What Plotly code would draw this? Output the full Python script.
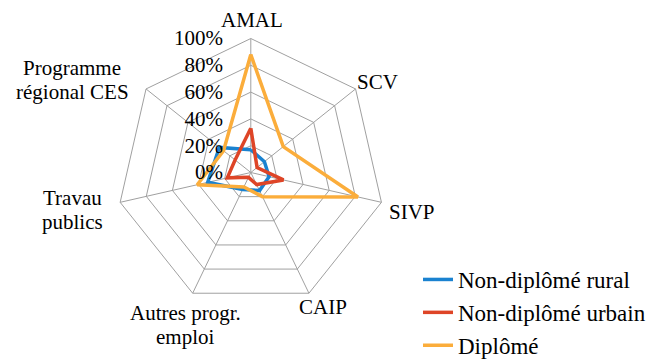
import plotly.graph_objects as go

categories = ["AMAL", "SCV", "SIVP", "CAIP", "Autres progr. emploi",
              "Travau publics", "Programme régional CES"]

# Category labels as drawn around the web (line-broken)
category_lines = [["AMAL"], ["SCV"], ["SIVP"], ["CAIP"],
                  ["Autres progr.", "emploi"],
                  ["Travau", "publics"],
                  ["Programme", "régional CES"]]

rural = [0.17, 0.13, 0.14, 0.15, 0.14, 0.33, 0.30]
urbain = [0.33, 0.06, 0.25, 0.10, 0.04, 0.18, 0.15]
diplome = [0.88, 0.31, 0.82, 0.20, 0.12, 0.41, 0.26]

series = [
    ("Non-diplômé rural", rural, "#1a82d0"),
    ("Non-diplômé urbain", urbain, "#de4527"),
    ("Diplômé", diplome, "#fbad3b"),
]

FONT = "Liberation Serif, Times New Roman, DejaVu Serif, serif"
FS = 21
W, H = 652, 360
cx, cy, R = 250.8, 172.5, 134

# label anchor points (pixel centre of first line) and line spacing
label_pos = [(252, 20), (377, 82), (412, 212), (323, 307),
             (185, 313), (72, 198), (72, 68)]
LINE_STEP = 24

fig = go.Figure()
for name, vals, color in series:
    fig.add_trace(go.Scatterpolar(
        r=vals + vals[:1],
        theta=categories + categories[:1],
        mode="lines",
        name=name,
        line=dict(color=color, width=3.5),
    ))

annotations = []
for lines, (px, py) in zip(category_lines, label_pos):
    for i, txt in enumerate(lines):
        annotations.append(dict(
            text=txt, xref="paper", yref="paper",
            x=px / W, y=1 - (py + i * LINE_STEP) / H,
            xanchor="center", yanchor="middle", showarrow=False,
            font=dict(family=FONT, size=FS, color="black"),
        ))

fig.update_layout(
    width=W, height=H,
    margin=dict(l=0, r=0, t=0, b=0, autoexpand=False),
    paper_bgcolor="white",
    plot_bgcolor="white",
    font=dict(family=FONT, size=FS, color="black"),
    showlegend=True,
    legend=dict(
        x=418 / W, y=1 - 258 / H, xanchor="left", yanchor="top",
        bgcolor="rgba(0,0,0,0)",
        font=dict(family=FONT, size=23, color="black"),
    ),
    annotations=annotations,
    polar=dict(
        domain=dict(x=[(cx - R) / W, (cx + R) / W],
                    y=[1 - (cy + R) / H, 1 - (cy - R) / H]),
        bgcolor="white",
        gridshape="linear",
        angularaxis=dict(
            rotation=90, direction="clockwise",
            showline=True, linecolor="#a0a0a0", linewidth=1,
            gridcolor="#a0a0a0", gridwidth=1,
            ticks="", showticklabels=False,
        ),
        radialaxis=dict(
            range=[0, 1], dtick=0.2, tickformat=".0%",
            angle=90, tickangle=90, side="counterclockwise",
            showline=False,
            ticks="outside", ticklen=20, tickcolor="rgba(0,0,0,0)",
            gridcolor="#a0a0a0", gridwidth=1,
            tickfont=dict(family=FONT, size=FS, color="black"),
        ),
    ),
)

fig.write_html("out.html")
